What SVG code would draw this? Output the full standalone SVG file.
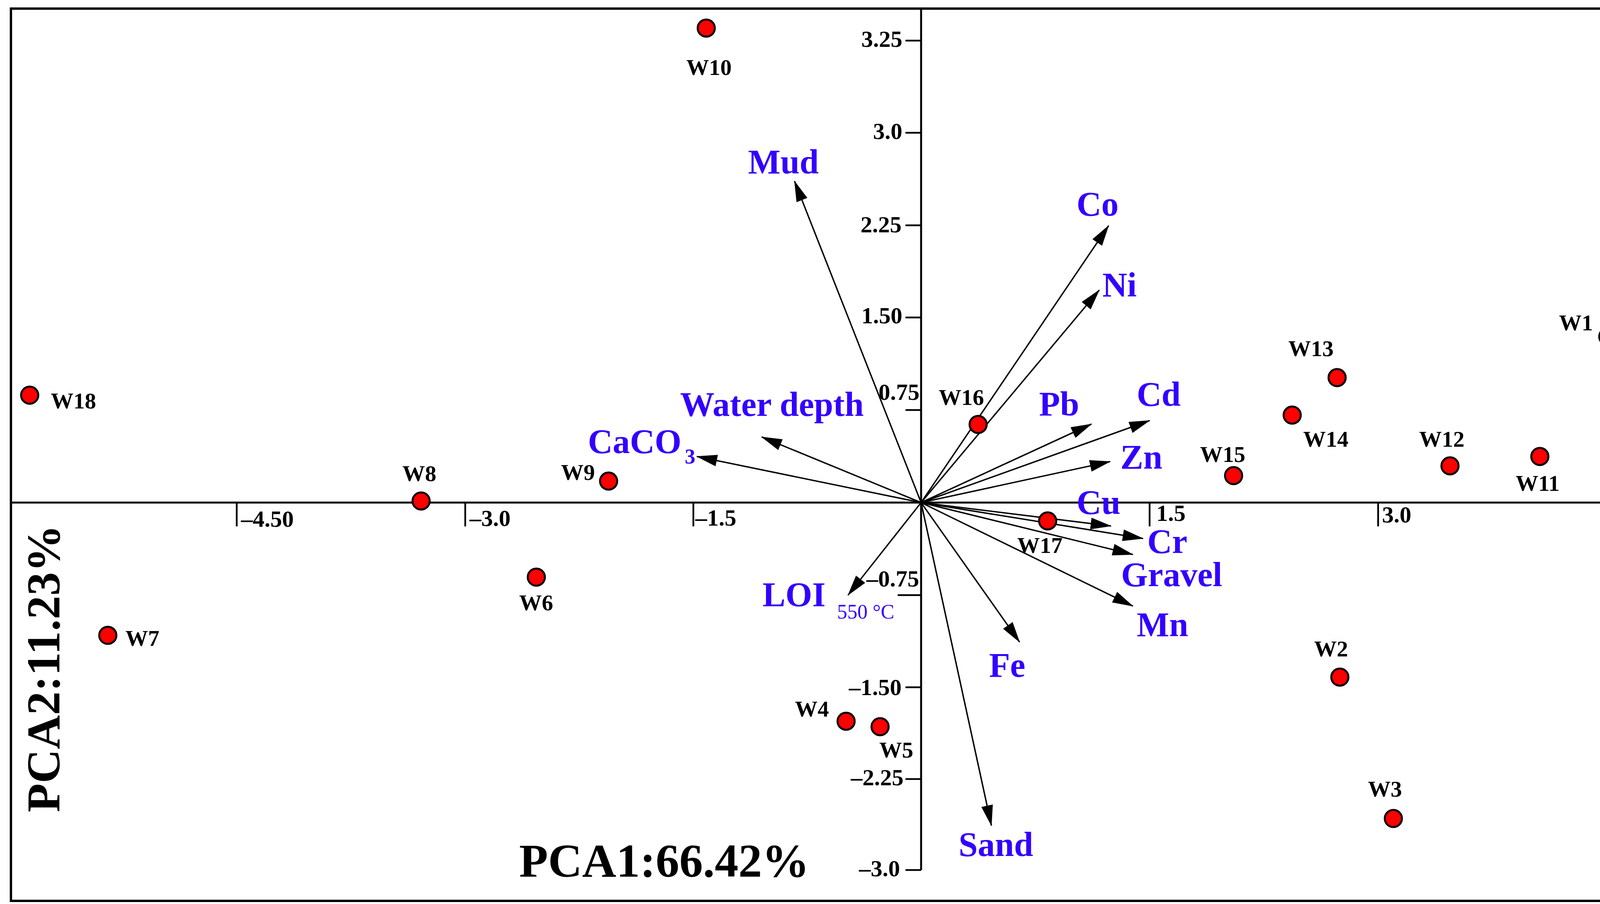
<svg xmlns="http://www.w3.org/2000/svg" width="4333" height="2315" viewBox="0 0 4333 2315">
<style>
text{font-family:"Liberation Serif","Times New Roman",serif;font-weight:bold}
.frame{fill:none;stroke:#000;stroke-width:6}
.axis{stroke:#000;stroke-width:5;fill:none}
.tick{stroke:#000;stroke-width:4.5}
.tl{font-size:60px;fill:#000}
.tr{font-size:60px;fill:#000;text-anchor:end}
.vec{stroke:#000;stroke-width:3.6;fill:none;marker-end:url(#ah)}
.pt{fill:#ff0000;stroke:#000;stroke-width:5}
.wl{font-size:58px;fill:#000}
.var{font-size:88px;fill:#3300ff}
.sub{font-size:54px;fill:#3300ff}
.deg{font-size:52px;fill:#3300ff;font-weight:normal}
.title{font-size:121px;fill:#000}
</style>
<defs>
<marker id="ah" markerUnits="userSpaceOnUse" viewBox="0 0 54 30" refX="52" refY="15" markerWidth="54" markerHeight="30" orient="auto">
<path d="M0,0 L54,15 L0,30 z" fill="#000"/>
</marker>
</defs>
<rect width="4333" height="2315" fill="#fff"/>
<rect class="frame" x="28" y="22" width="4284" height="2285"/>
<g id="axes">
<line class="axis" x1="28" y1="1287" x2="4312" y2="1287"/>
<line class="axis" x1="2358" y1="22" x2="2358" y2="2228"/>
<line class="tick" x1="2318" y1="104" x2="2358" y2="104"/>
<line class="tick" x1="2318" y1="340" x2="2358" y2="340"/>
<line class="tick" x1="2318" y1="577" x2="2358" y2="577"/>
<line class="tick" x1="2318" y1="813" x2="2358" y2="813"/>
<line class="tick" x1="2318" y1="1050" x2="2358" y2="1050"/>
<line class="tick" x1="2298" y1="1524" x2="2358" y2="1524"/>
<line class="tick" x1="2318" y1="1760" x2="2358" y2="1760"/>
<line class="tick" x1="2318" y1="1995" x2="2358" y2="1995"/>
<line class="tick" x1="2318" y1="2228" x2="2358" y2="2228"/>
<text class="tr" x="2310" y="120">3.25</text>
<text class="tr" x="2310" y="356">3.0</text>
<text class="tr" x="2308" y="595">2.25</text>
<text class="tr" x="2310" y="828">1.50</text>
<text class="tr" x="2354" y="1024">0.75</text>
<text class="tr" x="2353" y="1502">–0.75</text>
<text class="tr" x="2308" y="1780">–1.50</text>
<text class="tr" x="2313" y="2011">–2.25</text>
<text class="tr" x="2304" y="2244">–3.0</text>
<line class="tick" x1="606" y1="1287" x2="606" y2="1348"/>
<line class="tick" x1="1191" y1="1287" x2="1191" y2="1348"/>
<line class="tick" x1="1775" y1="1287" x2="1775" y2="1348"/>
<line class="tick" x1="2943" y1="1287" x2="2943" y2="1348"/>
<line class="tick" x1="3528" y1="1287" x2="3528" y2="1348"/>
<line class="tick" x1="4115" y1="1287" x2="4115" y2="1348"/>
<text class="tl" x="617" y="1349">–4.50</text>
<text class="tl" x="1202" y="1347">–3.0</text>
<text class="tl" x="1780" y="1346">–1.5</text>
<text class="tl" x="2960" y="1334">1.5</text>
<text class="tl" x="3538" y="1338">3.0</text>
<text class="tl" x="4128" y="1338">4.50</text>
</g>
<g id="axis-titles">
<text class="title" x="1329" y="2245">PCA1:66.42%</text>
<text class="title" transform="translate(152,2080) rotate(-90)">PCA2:11.23%</text>
</g>
<g id="connectors">
<line class="vec" x1="2358" y1="1287" x2="2034" y2="464"/>
<line class="vec" x1="2358" y1="1287" x2="1950" y2="1119"/>
<line class="vec" x1="2358" y1="1287" x2="1784" y2="1169"/>
<line class="vec" x1="2358" y1="1287" x2="2171" y2="1524"/>
<line class="vec" x1="2358" y1="1287" x2="2838" y2="578"/>
<line class="vec" x1="2358" y1="1287" x2="2814" y2="743"/>
<line class="vec" x1="2358" y1="1287" x2="2794" y2="1086"/>
<line class="vec" x1="2358" y1="1287" x2="2943" y2="1077"/>
<line class="vec" x1="2358" y1="1287" x2="2842" y2="1182"/>
<line class="vec" x1="2358" y1="1287" x2="2844" y2="1347"/>
<line class="vec" x1="2358" y1="1287" x2="2926" y2="1379"/>
<line class="vec" x1="2358" y1="1287" x2="2900" y2="1420"/>
<line class="vec" x1="2358" y1="1287" x2="2900" y2="1552"/>
<line class="vec" x1="2358" y1="1287" x2="2610" y2="1644"/>
<line class="vec" x1="2358" y1="1287" x2="2538" y2="2114"/>
</g>
<g id="var-Mud"><text class="var" x="1915" y="444">Mud</text></g>
<g id="var-WaterDepth"><text class="var" x="1741" y="1065">Water depth</text></g>
<g id="var-CaCO3"><text class="var" x="1505" y="1160">CaCO<tspan class="sub" x="1753" y="1187">3</tspan></text></g>
<g id="var-LOI"><text class="var" x="1952" y="1552">LOI</text><text class="deg" x="2143" y="1584">550 °C</text></g>
<g id="var-Co"><text class="var" x="2756" y="552">Co</text></g>
<g id="var-Ni"><text class="var" x="2822" y="759">Ni</text></g>
<g id="var-Pb"><text class="var" x="2660" y="1064">Pb</text></g>
<g id="var-Cd"><text class="var" x="2910" y="1039">Cd</text></g>
<g id="var-Zn"><text class="var" x="2868" y="1200">Zn</text></g>
<g id="var-Cu"><text class="var" x="2756" y="1316">Cu</text></g>
<g id="var-Cr"><text class="var" x="2937" y="1416">Cr</text></g>
<g id="var-Gravel"><text class="var" x="2870" y="1501">Gravel</text></g>
<g id="var-Mn"><text class="var" x="2910" y="1629">Mn</text></g>
<g id="var-Fe"><text class="var" x="2532" y="1733">Fe</text></g>
<g id="var-Sand"><text class="var" x="2454" y="2192">Sand</text></g>
<g id="W1"><circle class="pt" cx="4116" cy="862" r="22"/><text class="wl" x="3991" y="846">W1</text></g>
<g id="W2"><circle class="pt" cx="3430" cy="1734" r="22"/><text class="wl" x="3364" y="1681">W2</text></g>
<g id="W3"><circle class="pt" cx="3567" cy="2096" r="22"/><text class="wl" x="3502" y="2040">W3</text></g>
<g id="W4"><circle class="pt" cx="2166" cy="1847" r="22"/><text class="wl" x="2035" y="1835">W4</text></g>
<g id="W5"><circle class="pt" cx="2253" cy="1861" r="22"/><text class="wl" x="2251" y="1940">W5</text></g>
<g id="W6"><circle class="pt" cx="1373" cy="1478" r="22"/><text class="wl" x="1329" y="1563">W6</text></g>
<g id="W7"><circle class="pt" cx="276" cy="1627" r="22"/><text class="wl" x="321" y="1654">W7</text></g>
<g id="W8"><circle class="pt" cx="1078" cy="1283" r="22"/><text class="wl" x="1030" y="1232">W8</text></g>
<g id="W9"><circle class="pt" cx="1558" cy="1232" r="22"/><text class="wl" x="1436" y="1229">W9</text></g>
<g id="W10"><circle class="pt" cx="1808" cy="72" r="22"/><text class="wl" x="1757" y="192">W10</text></g>
<g id="W11"><circle class="pt" cx="3942" cy="1169" r="22"/><text class="wl" x="3880" y="1257">W11</text></g>
<g id="W12"><circle class="pt" cx="3712" cy="1193" r="22"/><text class="wl" x="3633" y="1144">W12</text></g>
<g id="W13"><circle class="pt" cx="3423" cy="967" r="22"/><text class="wl" x="3298" y="912">W13</text></g>
<g id="W14"><circle class="pt" cx="3308" cy="1063" r="22"/><text class="wl" x="3336" y="1144">W14</text></g>
<g id="W15"><circle class="pt" cx="3158" cy="1218" r="22"/><text class="wl" x="3072" y="1183">W15</text></g>
<g id="W16"><circle class="pt" cx="2504" cy="1087" r="22"/><text class="wl" x="2403" y="1037">W16</text></g>
<g id="W17"><circle class="pt" cx="2682" cy="1334" r="22"/><text class="wl" x="2604" y="1416">W17</text></g>
<g id="W18"><circle class="pt" cx="76" cy="1012" r="22"/><text class="wl" x="130" y="1046">W18</text></g>
</svg>
